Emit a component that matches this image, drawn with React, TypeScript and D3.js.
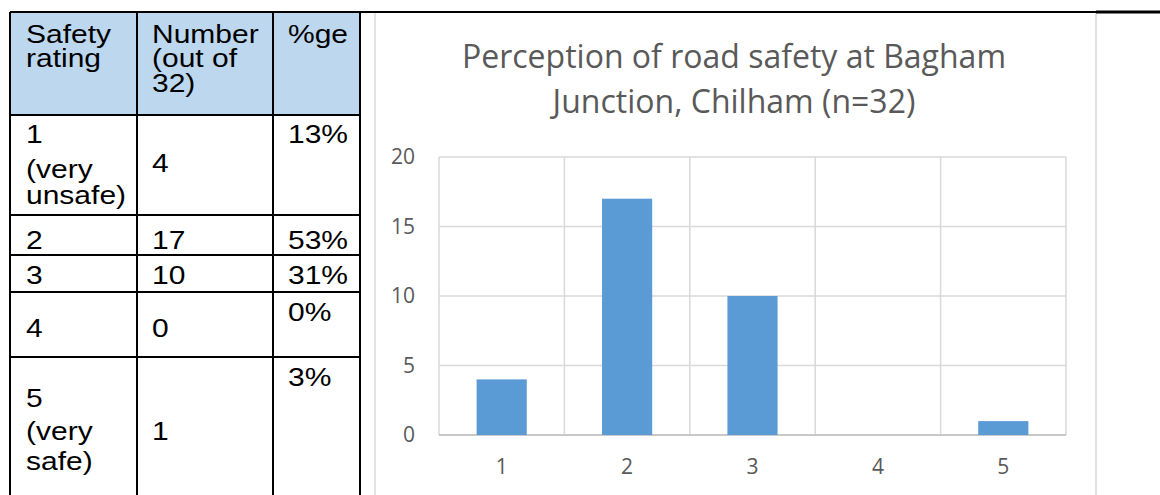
import React from "react";
import { scaleBand, scaleLinear } from "d3";

// chart data
const ratings = ["1", "2", "3", "4", "5"];
const counts = [4, 17, 10, 0, 1];
const yTicks = [0, 5, 10, 15, 20];
const titleLines = ["Perception of road safety at Bagham", "Junction, Chilham (n=32)"];

// table data
const headerCells = [["Safety", "rating"], ["Number", "(out of", "32)"], ["%ge"]];
const ratingLabels = [["1", "(very", "unsafe)"], ["2"], ["3"], ["4"], ["5", "(very", "safe)"]];
const percents = ["13%", "53%", "31%", "0%", "3%"];

// table layout
const colX = [10, 137, 273, 360];
const rowY = [12, 115, 215, 255, 292, 357, 495];
const textX = [26, 152, 288];
const headerBase = [[43, 67], [43, 67, 92], [43]];
const rowBase = [
  [[143, 178, 204], [172], [143]],
  [[249], [249], [249]],
  [[284], [284], [284]],
  [[337], [337], [321]],
  [[407, 440, 470], [440], [386]],
];

const TT = ({ x, y, children }: { x: number; y: number; children: any }) => (
  <text
    transform={`translate(${x},${y}) scale(1.2,1)`}
    fontFamily="'Liberation Sans', Arial, sans-serif"
    fontSize={25}
    fill="#000"
  >
    {children}
  </text>
);

export default function App() {
  const plot = { left: 439, right: 1066, top: 157, bottom: 435 };
  const x = scaleBand().domain(ratings).range([plot.left, plot.right]).padding(0);
  const y = scaleLinear().domain([0, 20]).range([plot.bottom, plot.top]);
  const barW = x.bandwidth() / 2.5;
  const grey = "#595959";

  return (
    <svg width={1160} height={495} style={{ position: "absolute", left: 0, top: 0, background: "#fff" }}>
      {/* table header fill */}
      <rect x={colX[0]} y={rowY[0]} width={colX[3] - colX[0]} height={rowY[1] - rowY[0]} fill="#BDD7EE" />

      {/* chart frame */}
      <line x1={375} x2={375} y1={12} y2={495} stroke="#D9D9D9" strokeWidth={1.5} />
      <line x1={1096} x2={1096} y1={12} y2={495} stroke="#D9D9D9" strokeWidth={1.5} />

      {/* title */}
      {titleLines.map((t, i) => (
        <text key={t} x={734} y={68 + i * 45} textAnchor="middle" fontFamily="'Open Sans', sans-serif" fontSize={32} fill={grey}>
          {t}
        </text>
      ))}

      {/* gridlines */}
      {yTicks.map((t) => (
        <line key={"h" + t} x1={plot.left} x2={plot.right} y1={y(t)} y2={y(t)} stroke="#D9D9D9" strokeWidth={1.5} />
      ))}
      {ratings.map((r) => (
        <line key={"v" + r} x1={x(r)!} x2={x(r)!} y1={plot.top} y2={plot.bottom} stroke="#D9D9D9" strokeWidth={1.5} />
      ))}
      <line x1={plot.right} x2={plot.right} y1={plot.top} y2={plot.bottom} stroke="#D9D9D9" strokeWidth={1.5} />
      <line x1={plot.left} x2={plot.right} y1={y(0)} y2={y(0)} stroke="#BFBFBF" strokeWidth={1.5} />

      {/* bars */}
      {counts.map((c, i) => (
        <rect
          key={i}
          x={x(ratings[i])! + (x.bandwidth() - barW) / 2}
          y={y(c)}
          width={barW}
          height={y(0) - y(c)}
          fill="#5B9BD5"
        />
      ))}

      {/* axis labels */}
      {yTicks.map((t) => (
        <text key={"yl" + t} x={415} y={y(t)} dy="0.35em" textAnchor="end" fontFamily="'Open Sans', sans-serif" fontSize={21} fill={grey}>
          {t}
        </text>
      ))}
      {ratings.map((r) => (
        <text key={"xl" + r} x={x(r)! + x.bandwidth() / 2} y={467} dy="0.35em" textAnchor="middle" fontFamily="'Open Sans', sans-serif" fontSize={21} fill={grey}>
          {r}
        </text>
      ))}

      {/* table lines */}
      <line x1={colX[0]} x2={1096} y1={rowY[0]} y2={rowY[0]} stroke="#000" strokeWidth={2} />
      <line x1={1096} x2={1160} y1={rowY[0]} y2={rowY[0]} stroke="#000" strokeWidth={3} />
      {rowY.slice(1, 6).map((ry) => (
        <line key={"r" + ry} x1={colX[0]} x2={colX[3]} y1={ry} y2={ry} stroke="#000" strokeWidth={2} />
      ))}
      {colX.map((cx) => (
        <line key={"c" + cx} x1={cx} x2={cx} y1={rowY[0]} y2={495} stroke="#000" strokeWidth={2} />
      ))}

      {/* table text */}
      {headerCells.map((lines, ci) =>
        lines.map((s, li) => (
          <TT key={`h${ci}${li}`} x={textX[ci]} y={headerBase[ci][li]}>
            {s}
          </TT>
        ))
      )}
      {ratingLabels.map((lines, ri) => {
        const cells = [lines, [String(counts[ri])], [percents[ri]]];
        return cells.map((cl, ci) =>
          cl.map((s, li) => (
            <TT key={`b${ri}${ci}${li}`} x={textX[ci]} y={rowBase[ri][ci][li]}>
              {s}
            </TT>
          ))
        );
      })}
    </svg>
  );
}
